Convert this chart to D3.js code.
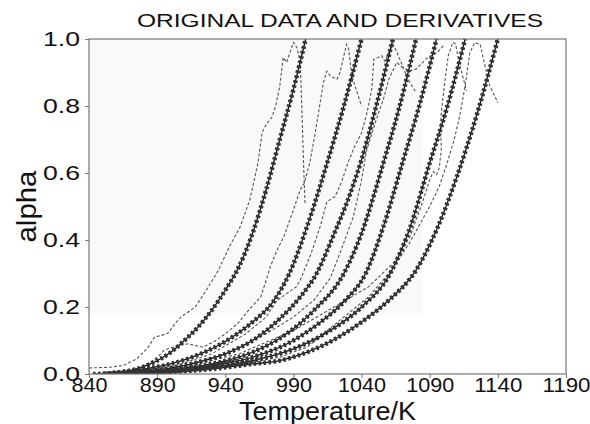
<!DOCTYPE html>
<html>
<head>
<meta charset="utf-8">
<script src="https://cdn.jsdelivr.net/npm/d3@7"></script>
<style>
  body { margin: 0; background: #fff; }
  text { font-family: "Liberation Sans", Arial, sans-serif; fill: #111; }
</style>
</head>
<body>
<div id="chart"></div>
<script>
// alpha curves (temperature K, alpha)
const alpha1 = [[843,0],[855,0.002],[870,0.01],[885,0.03],[900,0.065],[910,0.1],[920,0.14],[930,0.19],[940,0.25],[950,0.32],[960,0.42],[970,0.55],[980,0.7],[990,0.85],[999,1]];
const alpha2 = [[850,0],[862,0.005],[880,0.015],[900,0.03],[920,0.057],[940,0.097],[960,0.155],[975,0.215],[987,0.3],[1000,0.44],[1014,0.62],[1027,0.8],[1040,1]];
const alpha3 = [[852,0],[865,0.003],[890,0.012],[920,0.035],[940,0.06],[960,0.1],[980,0.165],[995,0.23],[1007,0.3],[1020,0.42],[1030,0.52],[1040,0.64],[1052,0.82],[1063,1]];
const alpha4 = [[855,0],[870,0.003],[900,0.012],[930,0.03],[960,0.065],[985,0.12],[1005,0.19],[1027,0.3],[1040,0.42],[1056,0.63],[1068,0.8],[1080,1]];
const alpha5 = [[857,0],[875,0.003],[900,0.01],[930,0.024],[960,0.05],[990,0.1],[1010,0.155],[1028,0.22],[1043,0.3],[1056,0.44],[1070,0.63],[1083,0.81],[1095,1]];
const alpha6 = [[860,0],[880,0.003],[900,0.008],[930,0.02],[960,0.04],[990,0.075],[1015,0.125],[1040,0.2],[1061,0.3],[1075,0.43],[1090,0.63],[1103,0.8],[1116,1]];
const alpha7 = [[862,0],[880,0.002],[900,0.006],[930,0.015],[960,0.03],[980,0.04],[1000,0.065],[1020,0.103],[1040,0.155],[1060,0.22],[1080,0.31],[1095,0.43],[1110,0.59],[1125,0.78],[1140,1]];

// derivative curves (dashed), same units
const deriv1 = [[840,0.018],[855,0.02],[865,0.025],[875,0.045],[883,0.077],[888,0.11],[893,0.115],[898,0.122],[903,0.15],[908,0.172],[913,0.186],[918,0.2],[926,0.25],[935,0.31],[943,0.38],[951,0.44],[958,0.52],[964,0.63],[967,0.72],[970,0.745],[974,0.765],[977,0.8],[980,0.86],[982.5,0.945],[985,0.93],[990,0.99],[992.5,0.975],[995,0.93],[996.5,0.75],[997.5,0.62],[998.5,0.51]];
const deriv2 = [[865,0.005],[880,0.02],[890,0.05],[895.5,0.072],[905,0.085],[912.6,0.09],[918,0.085],[923.6,0.08],[932,0.097],[940,0.12],[949,0.15],[957,0.19],[966,0.23],[970,0.28],[973,0.32],[978,0.37],[983,0.41],[990,0.49],[995,0.55],[998,0.57],[1002,0.63],[1006,0.72],[1009.6,0.81],[1012,0.87],[1014.5,0.904],[1017,0.89],[1019.3,0.885],[1022,0.88],[1024.2,0.9],[1027,0.95],[1029,0.984],[1030.5,0.97],[1032.8,0.89],[1036,0.85],[1040,0.8]];
const deriv3 = [[900,0.02],[930,0.06],[955,0.12],[970,0.17],[978,0.22],[985,0.24],[992,0.26],[995,0.28],[1003,0.36],[1009.6,0.44],[1014.5,0.514],[1020.6,0.53],[1025,0.57],[1030,0.63],[1035,0.68],[1040,0.72],[1044,0.78],[1047.5,0.85],[1049,0.94],[1052,0.945],[1054.8,0.95],[1057,0.934],[1060,0.96],[1063,0.985],[1066,0.96],[1070,0.92],[1074,0.88],[1080,0.84]];
const deriv4 = [[900,0.015],[940,0.06],[970,0.12],[990,0.17],[1005,0.22],[1017,0.286],[1025,0.37],[1034,0.47],[1040,0.58],[1043.8,0.669],[1050,0.75],[1056,0.82],[1060,0.88],[1065.8,0.93],[1070,0.915],[1075.6,0.905],[1080,0.91],[1085,0.93],[1089,0.947],[1095,0.957],[1100,0.98]];
const deriv5 = [[900,0.01],[950,0.06],[990,0.13],[1020,0.2],[1045,0.26],[1063,0.33],[1075.6,0.41],[1085.3,0.52],[1090,0.58],[1092.6,0.604],[1095,0.595],[1097,0.615],[1098.5,0.67],[1098,0.74],[1098.5,0.78],[1101,0.87],[1103.6,0.95],[1107,0.99],[1109,0.985],[1111,0.94],[1113.5,0.9],[1117,0.845]];
const deriv6 = [[900,0.005],[950,0.03],[980,0.05],[1000,0.08],[1012,0.12],[1027,0.17],[1045,0.23],[1060,0.3],[1075,0.39],[1090,0.5],[1097,0.56],[1102.5,0.626],[1108,0.7],[1112,0.77],[1116,0.86],[1119.5,0.96],[1123,0.989],[1127,0.984],[1130,0.93],[1134,0.86],[1140,0.81]];

const alphaCurves = [alpha1, alpha2, alpha3, alpha4, alpha5, alpha6, alpha7];
const derivCurves = [deriv1, deriv2, deriv3, deriv4, deriv5, deriv6];

const xTicks = [840, 890, 940, 990, 1040, 1090, 1140, 1190];
const yTicks = [0, 0.2, 0.4, 0.6, 0.8, 1.0];

//set margins height and width
const complete_width = 590,
    complete_height = 424,
    margin = { top: 39, right: 24, bottom: 50, left: 89 },
    width = complete_width - margin.left - margin.right,
    height = complete_height - margin.top - margin.bottom;

const svg = d3.select("#chart")
    .append("svg")
    .attr("width", complete_width)
    .attr("height", complete_height);

// faint grey patch behind the upper left of the plot
svg.append("rect")
    .attr("x", margin.left)
    .attr("y", margin.top)
    .attr("width", 333)
    .attr("height", 276)
    .attr("fill", "#f9f9f9");

const g = svg.append("g")
    .attr("transform", `translate(${margin.left},${margin.top})`);

//scales
const x = d3.scaleLinear().domain([840, 1190]).range([0, width]);
const y = d3.scaleLinear().domain([0, 1]).range([height, 0]);

g.append("clipPath").attr("id", "plot-clip")
    .append("rect").attr("width", width).attr("height", height + 1).attr("y", -1);

const line = d3.line()
    .x(d => x(d[0]))
    .y(d => y(d[1]));
const smooth = d3.line()
    .x(d => x(d[0]))
    .y(d => y(d[1]))
    .curve(d3.curveMonotoneX);

const plot = g.append("g").attr("clip-path", "url(#plot-clip)");

// derivative curves, grey dashes
plot.selectAll(".deriv")
    .data(derivCurves)
    .join("path")
    .attr("class", "deriv")
    .attr("d", line)
    .attr("fill", "none")
    .attr("stroke", "#555")
    .attr("stroke-width", 1.1)
    .attr("stroke-dasharray", "3,2");

// alpha curves: thin line plus a thick broken stroke standing in for the triangle markers
plot.selectAll(".alpha")
    .data(alphaCurves)
    .join("path")
    .attr("class", "alpha")
    .attr("d", smooth)
    .attr("fill", "none")
    .attr("stroke", "#111")
    .attr("stroke-width", 1.3);

plot.selectAll(".marks")
    .data(alphaCurves)
    .join("path")
    .attr("class", "marks")
    .attr("d", smooth)
    .attr("fill", "none")
    .attr("stroke", "#333")
    .attr("stroke-width", 4.5)
    .attr("stroke-dasharray", "2.6,2.4");

//frame
g.append("rect")
    .attr("width", width)
    .attr("height", height)
    .attr("fill", "none")
    .attr("stroke", "#777")
    .attr("stroke-width", 1.2);

//axes
const xAxis = g.append("g")
    .attr("transform", `translate(0,${height})`)
    .call(d3.axisBottom(x).tickValues(xTicks).tickSize(4).tickPadding(0).tickFormat(d3.format("d")));
const yAxis = g.append("g")
    .call(d3.axisLeft(y).tickValues(yTicks).tickSize(4).tickPadding(5).tickFormat(d3.format(".1f")));

[xAxis, yAxis].forEach(a => {
    a.select(".domain").remove();
    a.selectAll(".tick line").attr("stroke", "#777");
    a.selectAll(".tick text")
        .style("font-size", "21px")
        .attr("fill", "#111");
});
xAxis.selectAll(".tick text").style("font-size", "20px").attr("textLength", 36).attr("lengthAdjust", "spacingAndGlyphs");
xAxis.selectAll(".tick text").filter(d => d >= 1000).attr("textLength", 48);
yAxis.selectAll(".tick text").attr("textLength", 37).attr("lengthAdjust", "spacingAndGlyphs");

//title and labels
svg.append("text")
    .attr("x", 340)
    .attr("y", 27)
    .attr("text-anchor", "middle")
    .attr("textLength", 406)
    .attr("lengthAdjust", "spacingAndGlyphs")
    .style("font-size", "18px")
    .text("ORIGINAL DATA AND DERIVATIVES");

svg.append("text")
    .attr("x", margin.left + width / 2)
    .attr("y", 419.5)
    .attr("text-anchor", "middle")
    .attr("textLength", 177)
    .attr("lengthAdjust", "spacingAndGlyphs")
    .style("font-size", "25px")
    .text("Temperature/K");

svg.append("text")
    .attr("transform", `translate(36,${margin.top + height / 2}) rotate(-90)`)
    .attr("text-anchor", "middle")
    .attr("textLength", 72)
    .attr("lengthAdjust", "spacingAndGlyphs")
    .style("font-size", "27px")
    .text("alpha");
</script>
</body>
</html>
